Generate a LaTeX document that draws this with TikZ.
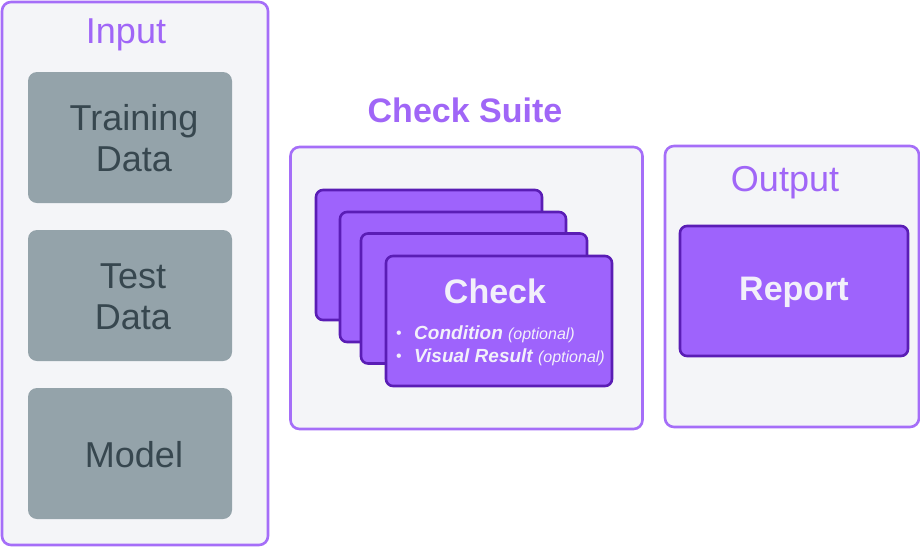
\documentclass[tikz,border=0pt]{standalone}
\usepackage{fontspec}
\setmainfont{Liberation Sans}
\begin{document}
\begin{tikzpicture}[x=1pt,y=-1pt,
  panel/.style={draw=panelborder,fill=panelfill,line width=2.6pt,rounded corners=9pt,inner sep=0pt},
  graybox/.style={fill=grayfill,rounded corners=9pt,inner sep=0pt,minimum width=204pt,minimum height=131pt},
  graytxt/.style={text=graytext,inner sep=0pt,align=center,font=\fontsize{36}{41}\selectfont},
  card/.style={draw=cardborder,fill=cardfill,line width=2.6pt,rounded corners=7pt,inner sep=0pt,minimum width=226pt,minimum height=130pt},
  title/.style={text=titletext,inner sep=0pt,anchor=base},
  cardtext/.style={text=cardtext,inner sep=0pt,anchor=base}]
\definecolor{panelborder}{HTML}{A56EF8}
\definecolor{panelfill}{HTML}{F4F5F8}
\definecolor{grayfill}{HTML}{94A3AA}
\definecolor{graytext}{HTML}{37474F}
\definecolor{cardborder}{HTML}{5A1DB5}
\definecolor{cardfill}{HTML}{9E63FC}
\definecolor{titletext}{HTML}{A066F7}
\definecolor{cardtext}{HTML}{F2F0FA}
\useasboundingbox[fill=white] (0,0) rectangle (920,547);
% Input panel
\node[panel,minimum width=266pt,minimum height=543pt] (inpanel) at (135,273.5) {};
\node[title,font=\fontsize{36}{40}\selectfont] (intitle) at (126,43) {Input};
\node[graybox] (train) at (130,137.5) {};
\node[graybox] (test) at (130,295.5) {};
\node[graybox] (model) at (130,453.5) {};
\node[graytxt] (traint) at ([xshift=4pt,yshift=-1pt]train.center) {Training\\Data};
\node[graytxt] (testt) at ([xshift=3pt,yshift=-1pt]test.center) {Test\\Data};
\node[graytxt] (modelt) at ([xshift=4pt,yshift=-1pt]model.center) {Model};
% Check suite
\node[title,font=\bfseries\fontsize{34}{40}\selectfont] (cstitle) at (465,122) {Check Suite};
\node[panel,minimum width=352pt,minimum height=282pt] (cspanel) at (466.5,288) {};
\node[card] (c1) at (429,255) {};
\node[card] (c2) at (453,277) {};
\node[card] (c3) at (474,298.5) {};
\node[card] (c4) at (499,321) {};
\node[cardtext,font=\bfseries\fontsize{34}{40}\selectfont] (checkt) at (495,303) {Check};
\node[cardtext,font=\fontsize{16}{18}\selectfont] (b1) at (399,338) {•};
\node[cardtext,font=\fontsize{16}{18}\selectfont] (b2) at (399,361) {•};
\node[cardtext,anchor=base west] (l1) at (414,339) {\fontsize{19}{22}\selectfont\bfseries\itshape Condition \fontsize{16}{20}\selectfont\mdseries (optional)};
\node[cardtext,anchor=base west] (l2) at (414,362) {\fontsize{19}{22}\selectfont\bfseries\itshape Visual Result \fontsize{16}{20}\selectfont\mdseries (optional)};
% Output
\node[panel,minimum width=254pt,minimum height=281pt] (outpanel) at (792,286.5) {};
\node[title,font=\fontsize{36}{40}\selectfont] (outtitle) at (785,191) {Output};
\node[card,minimum width=228pt] (report) at (794,291) {};
\node[cardtext,font=\bfseries\fontsize{34}{40}\selectfont] (reportt) at (794,300) {Report};
\end{tikzpicture}
\end{document}
